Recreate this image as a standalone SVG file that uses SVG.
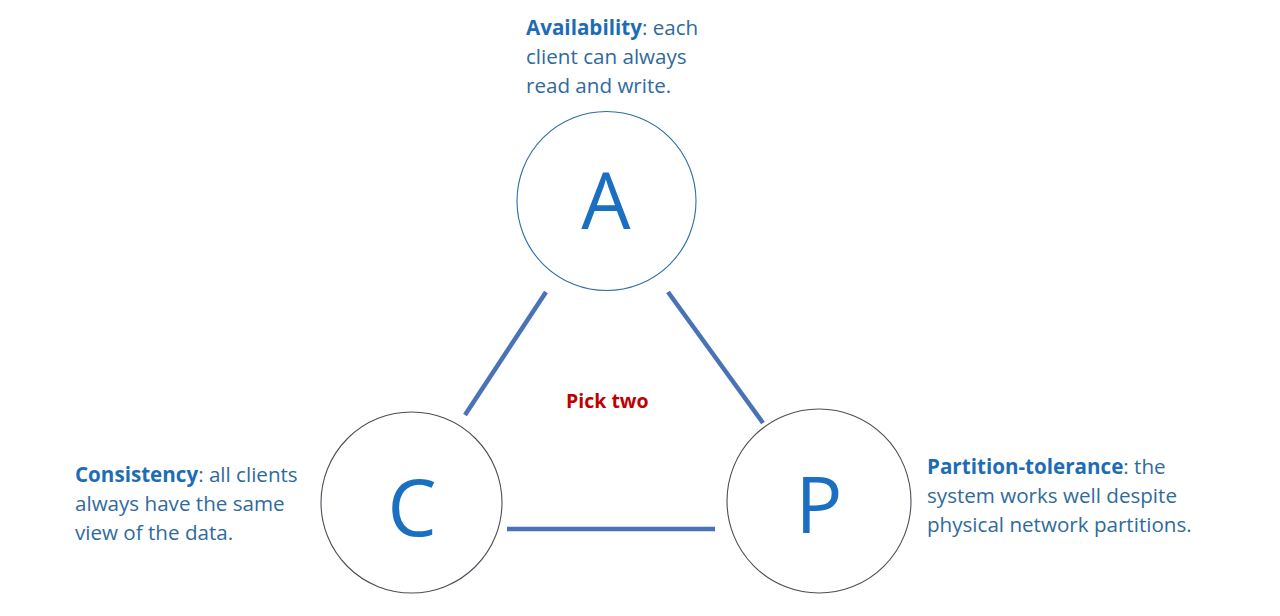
<svg xmlns="http://www.w3.org/2000/svg" width="1280" height="616" viewBox="0 0 1280 616">
<style>
.t{font-family:"Open Sans","Noto Sans","Liberation Sans",sans-serif;font-size:20.6px;fill:#2f6a9d}
.b{font-weight:bold;fill:#1e6db4}
.big{font-family:"Open Sans","Noto Sans","Liberation Sans",sans-serif;font-size:78px;fill:#1a6fc0;text-anchor:middle}
.ring{fill:#fff;stroke-width:1.1}
.edge{stroke:#4a72b8;stroke-width:4.5;fill:none}
</style>
<rect width="1280" height="616" fill="#fff"/>
<g id="connectors">
<line class="edge" x1="546" y1="292" x2="465" y2="415"/>
<line class="edge" x1="668" y1="292" x2="763" y2="423"/>
<line class="edge" x1="507" y1="529" x2="715" y2="529"/>
</g>
<g id="node-A">
<circle class="ring" cx="606.5" cy="201" r="89.5" stroke="#2e6da4"/>
<text class="big" x="606" y="229">A</text>
</g>
<g id="node-C">
<circle class="ring" cx="411.5" cy="502.5" r="90.5" stroke="#4a4f57"/>
<text class="big" x="412" y="536">C</text>
</g>
<g id="node-P">
<circle class="ring" cx="819" cy="501" r="92" stroke="#4a4f57"/>
<text class="big" x="819" y="533">P</text>
</g>
<g id="label-A">
<text class="t" x="526" y="35"><tspan class="b">Availability</tspan>: each</text>
<text class="t" x="526" y="64">client can always</text>
<text class="t" x="526" y="93">read and write.</text>
</g>
<g id="label-C">
<text class="t" x="75" y="482"><tspan class="b">Consistency</tspan>: all clients</text>
<text class="t" x="75" y="511">always have the same</text>
<text class="t" x="75" y="540">view of the data.</text>
</g>
<g id="label-P">
<text class="t" x="927" y="474"><tspan class="b">Partition-tolerance</tspan>: the</text>
<text class="t" x="927" y="503">system works well despite</text>
<text class="t" x="927" y="532">physical network partitions.</text>
</g>
<g id="pick-two">
<text x="566" y="408" font-family="'Open Sans','Noto Sans',sans-serif" font-size="19.5" font-weight="bold" fill="#c00000">Pick two</text>
</g>
</svg>
